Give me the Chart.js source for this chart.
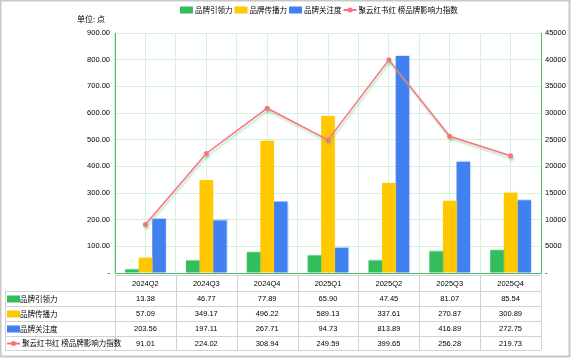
<!DOCTYPE html>
<html>
<head>
<meta charset="utf-8">
<script src="https://cdn.jsdelivr.net/npm/chart.js@4/dist/chart.umd.min.js"></script>
<style>
html, body { margin: 0; padding: 0; background: #fff; }
#wrap { width: 573px; height: 358px; position: relative; }
</style>
</head>
<body>
<div id="wrap"><canvas id="myChart"></canvas></div>
<script>
const quarters = ['2024Q2', '2024Q3', '2024Q4', '2025Q1', '2025Q2', '2025Q3', '2025Q4'];
const seriesNames = ['品牌引领力', '品牌传播力', '品牌关注度', '聚云红书红 榜品牌影响力指数'];
const leadValues = [13.38, 46.77, 77.89, 65.90, 47.45, 81.07, 85.54];
const spreadValues = [57.09, 349.17, 496.22, 589.13, 337.61, 270.87, 300.89];
const focusValues = [203.56, 197.11, 267.71, 94.73, 813.89, 416.89, 272.75];
const indexValues = [91.01, 224.02, 308.94, 249.59, 399.65, 256.28, 219.73];
const unitText = '单位: 点';

const GREEN = 'rgb(52,189,92)';
const YELLOW = 'rgb(255,200,0)';
const BLUE = 'rgb(64,128,240)';
const PINK = 'rgb(255,112,126)';
const AXIS = 'rgb(76,187,106)';
const GRID = 'rgb(212,242,222)';
const CJK = '"Noto Sans CJK SC", "Noto Sans", sans-serif';
const NUM = '"Liberation Sans", Arial, sans-serif';

Chart.defaults.font.family = NUM;
Chart.defaults.font.size = 7.5;
Chart.defaults.color = '#000';

const colors = [GREEN, YELLOW, BLUE, PINK];
const tableRows = [leadValues, spreadValues, focusValues, indexValues];

function drawIcon(ctx, i, x, y) {
	// x = left, y = vertical center
	if (i < 3) {
		ctx.fillStyle = colors[i];
		ctx.fillRect(x, y - 3.5, 13, 7);
	} else {
		ctx.strokeStyle = PINK;
		ctx.lineWidth = 2;
		ctx.beginPath();
		ctx.moveTo(x, y);
		ctx.lineTo(x + 13, y);
		ctx.stroke();
		ctx.fillStyle = PINK;
		ctx.beginPath();
		ctx.arc(x + 6.5, y, 2.5, 0, Math.PI * 2);
		ctx.fill();
	}
}

const extrasPlugin = {
	id: 'extras',
	beforeDatasetDraw(chart, args) {
		const ctx = chart.ctx;
		ctx.save();
		if (args.index === 3) {
			ctx.shadowColor = 'rgba(110,200,135,0.55)';
			ctx.shadowOffsetX = 1;
			ctx.shadowOffsetY = 2.5;
			ctx.shadowBlur = 2;
		} else {
			ctx.shadowColor = colors[args.index].replace('rgb', 'rgba').replace(')', ',0.2)');
			ctx.shadowOffsetX = 1;
			ctx.shadowOffsetY = -1;
			ctx.shadowBlur = 1;
		}
	},
	afterDatasetDraw(chart) {
		chart.ctx.restore();
	},
	afterDraw(chart) {
		const ctx = chart.ctx;
		const area = chart.chartArea;
		ctx.save();

		// unit label
		ctx.font = '8px ' + CJK;
		ctx.fillStyle = '#000';
		ctx.textBaseline = 'middle';
		ctx.textAlign = 'left';
		ctx.fillText(unitText, 77, 19);

		// legend
		ctx.font = '7.5px ' + CJK;
		let lx = 180;
		seriesNames.forEach((name, i) => {
			drawIcon(ctx, i, lx, 10);
			ctx.fillStyle = '#000';
			ctx.fillText(name, lx + 15, 10.5);
			lx += 15 + ctx.measureText(name).width + 2;
		});

		// data table
		const n = quarters.length;
		const colW = (area.right - area.left) / n;
		const rowTops = [275, 291, 306, 321, 336, 350];
		const tLeft = 5;
		ctx.strokeStyle = 'rgb(210,210,210)';
		ctx.lineWidth = 1;
		ctx.beginPath();
		// header row
		ctx.moveTo(area.left, rowTops[0] + 0.5);
		ctx.lineTo(area.right, rowTops[0] + 0.5);
		for (let r = 1; r < rowTops.length; r++) {
			ctx.moveTo(tLeft, rowTops[r] + 0.5);
			ctx.lineTo(area.right, rowTops[r] + 0.5);
		}
		ctx.moveTo(tLeft + 0.5, rowTops[1]);
		ctx.lineTo(tLeft + 0.5, rowTops[5]);
		for (let c = 0; c <= n; c++) {
			const x = Math.round(area.left + c * colW) + 0.5;
			ctx.moveTo(x, rowTops[0]);
			ctx.lineTo(x, rowTops[5]);
		}
		ctx.stroke();

		ctx.fillStyle = '#000';
		ctx.textBaseline = 'middle';
		ctx.textAlign = 'center';
		ctx.font = '7.5px ' + NUM;
		quarters.forEach((q, c) => {
			ctx.fillText(q, area.left + (c + 0.5) * colW, (rowTops[0] + rowTops[1]) / 2 + 0.5);
		});
		tableRows.forEach((vals, r) => {
			const cy = (rowTops[r + 1] + rowTops[r + 2]) / 2 + 0.5;
			ctx.textAlign = 'left';
			ctx.font = '7.5px ' + CJK;
			drawIcon(ctx, r, 7, cy);
			ctx.fillStyle = '#000';
			ctx.fillText(seriesNames[r], r === 3 ? 22 : 20, cy);
			ctx.textAlign = 'center';
			ctx.font = '7.5px ' + NUM;
			vals.forEach((v, c) => {
				ctx.fillText(v.toFixed(2), area.left + (c + 0.5) * colW, cy);
			});
		});

		// outer frame
		ctx.strokeStyle = 'rgb(200,200,200)';
		ctx.strokeRect(0.5, 0.5, 569, 356);
		ctx.restore();
	}
};

const datasets = [];
datasets.push({
	type: 'bar',
	label: seriesNames[0],
	data: leadValues,
	backgroundColor: GREEN,
	yAxisID: 'y',
	order: 2,
});
datasets.push({
	type: 'bar',
	label: seriesNames[1],
	data: spreadValues,
	backgroundColor: YELLOW,
	yAxisID: 'y',
	order: 2,
});
datasets.push({
	type: 'bar',
	label: seriesNames[2],
	data: focusValues,
	backgroundColor: BLUE,
	yAxisID: 'y',
	order: 2,
});
datasets.push({
	type: 'line',
	label: seriesNames[3],
	data: indexValues,
	borderColor: PINK,
	backgroundColor: PINK,
	borderWidth: 1.5,
	pointRadius: 2.5,
	pointBorderWidth: 0,
	tension: 0,
	fill: false,
	yAxisID: 'y2',
	order: 1,
});

const config = {
	type: 'bar',
	data: { labels: quarters, datasets },
	options: {
		responsive: true,
		maintainAspectRatio: false,
		animation: false,
		layout: { padding: { top: 33, bottom: 85, left: 0, right: 0 } },
		datasets: {
			bar: { categoryPercentage: 0.67, barPercentage: 1 }
		},
		plugins: {
			legend: { display: false },
			tooltip: { enabled: false },
		},
		scales: {
			x: {
				type: 'category',
				offset: true,
				grid: { offset: true, color: GRID, drawTicks: false },
				border: { color: AXIS },
				ticks: { display: false },
				afterFit: s => { s.height = 0; },
			},
			x2: {
				type: 'category',
				position: 'bottom',
				offset: true,
				grid: { offset: false, color: GRID, drawTicks: false },
				border: { display: false },
				ticks: { display: false },
				afterFit: s => { s.height = 0; },
			},
			y: {
				position: 'left',
				min: 0,
				max: 900,
				grid: { color: GRID, drawTicks: false },
				border: { color: AXIS },
				ticks: {
					stepSize: 100,
					padding: 5,
					callback: v => v === 0 ? '-' : v.toFixed(2),
				},
				afterFit: s => { s.width = 115; },
			},
			y2: {
				position: 'right',
				min: 0,
				max: 450,
				grid: { display: false, drawTicks: false },
				border: { color: AXIS },
				ticks: {
					stepSize: 50,
					padding: 4,
					callback: v => v === 0 ? '-' : String(v * 100),
				},
				afterFit: s => { s.width = 32; },
			},
		},
	},
	plugins: [extrasPlugin],
};

const ctx = document.getElementById('myChart').getContext('2d');
const myChart = new Chart(ctx, config);
</script>
</body>
</html>
